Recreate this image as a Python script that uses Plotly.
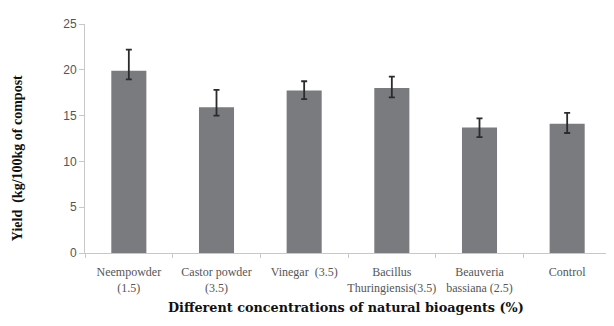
import plotly.graph_objects as go

categories = ["Neempowder<br>(1.5)", "Castor powder<br>(3.5)", "Vinegar  (3.5)",
              "Bacillus<br>Thuringiensis(3.5)", "Beauveria<br>bassiana (2.5)", "Control"]
yield_values = [19.9, 15.9, 17.75, 18.0, 13.7, 14.1]
err_plus = [2.3, 1.9, 1.0, 1.25, 1.0, 1.2]
err_minus = [0.95, 0.9, 0.95, 1.0, 1.05, 1.0]
y_ticks = [0, 5, 10, 15, 20, 25]

fig = go.Figure()
fig.add_trace(go.Bar(
    x=categories, y=yield_values,
    marker=dict(color="#7a7b7e", line=dict(width=0)),
    width=0.4,
    error_y=dict(type="data", symmetric=False, array=err_plus, arrayminus=err_minus,
                 color="#2b2b2b", thickness=1.8, width=3),
))

fig.update_layout(
    width=606, height=318,
    margin=dict(l=77, r=3, t=16, b=73),
    paper_bgcolor="white", plot_bgcolor="white",
    showlegend=False,
    xaxis=dict(
        type="category", tickson="boundaries", ticks="outside", ticklen=4,
        tickcolor="#c8c8c8", showline=True, linecolor="#c8c8c8", linewidth=1,
        tickfont=dict(family="Liberation Serif", size=12, color="#555555"),
        ticklabelstandoff=8,
        tickangle=0, automargin=False, showgrid=False,
    ),
    yaxis=dict(
        range=[0, 25], tickvals=y_ticks, ticks="outside", ticklen=5,
        tickcolor="#c8c8c8", showline=True, linecolor="#c8c8c8", linewidth=1,
        tickfont=dict(family="Liberation Sans", size=12, color="#555555"),
        automargin=False, showgrid=False, zeroline=False,
    ),
    annotations=[
        dict(text="<b>Yield  (kg/100kg of compost</b>", xref="paper", yref="paper",
             x=-0.127, y=0.415, xanchor="center", yanchor="middle", textangle=-90,
             showarrow=False, font=dict(family="Liberation Serif", size=14, color="#111111")),
        dict(text="<b>Different concentrations of natural bioagents (%)</b>", xref="paper", yref="paper",
             x=0.496, y=-0.24, xanchor="center", yanchor="middle",
             showarrow=False, font=dict(family="DejaVu Serif", size=12.8, color="#111111")),
    ],
)

fig.write_html("out.html")
